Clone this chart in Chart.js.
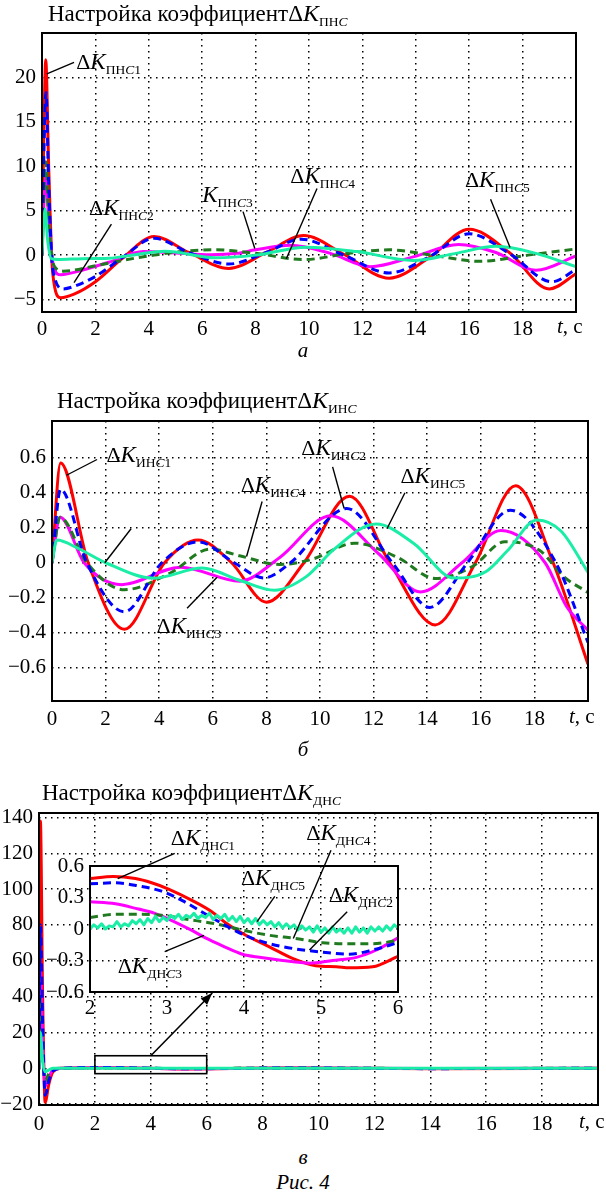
<!DOCTYPE html>
<html><head><meta charset="utf-8">
<script src="https://cdn.jsdelivr.net/npm/chart.js@4.4.1/dist/chart.umd.min.js"></script>
<style>
html,body{margin:0;padding:0;background:#fff;}
body{width:606px;height:1196px;position:relative;overflow:hidden;}
canvas{position:absolute;}
.cap{position:absolute;left:0;width:606px;text-align:center;font-family:"Liberation Serif",serif;font-style:italic;font-size:21px;line-height:21px;color:#000;}
.pre{position:absolute;left:-1000px;top:0;font-family:"Liberation Serif";}
</style></head><body>
<span class="pre">Аа <i>Kt</i> 0123</span>
<canvas id="c1" width="606" height="345" style="left:0;top:0"></canvas>
<canvas id="c2" width="606" height="360" style="left:0;top:380px"></canvas>
<canvas id="c3" width="606" height="370" style="left:0;top:770px"></canvas>
<canvas id="c4" width="440" height="210" style="left:0;top:815px"></canvas>
<div class="cap" style="top:340px">а</div>
<div class="cap" style="top:739px">б</div>
<div class="cap" style="top:1147px">в</div>
<div class="cap" style="top:1172px">Рис. 4</div>
<script>
const FONT = '"Liberation Serif", serif';

// ---------- (а) ΔK_ПНС ----------
const pns1T = [0, 0.06, 0.14, 0.25, 0.4, 0.7, 1.2, 2.0, 3.0, 4.2, 5.5, 7.0, 8.4, 9.8, 11.3, 13.0, 14.5, 16.0, 17.5, 19.0, 20];
const pns1V = [0, 12, 22, 10, -2, -4.8, -4.4, -3.0, -0.4, 2.1, 0.3, -1.5, 0.3, 2.2, 0.1, -2.6, -0.3, 2.9, 0.3, -3.8, -2.1];
const pns2T = [0, 0.06, 0.15, 0.25, 0.4, 0.8, 1.3, 2.0, 3.0, 4.2, 5.5, 7.0, 8.4, 9.7, 11.3, 13.0, 14.5, 16.0, 17.5, 19.1, 20];
const pns2V = [0, 10, 18.3, 8, -1.5, -3.8, -3.4, -2.4, -0.3, 1.9, 0.3, -1.0, 0.3, 1.8, 0.0, -2.0, -0.2, 2.4, 0.2, -3.0, -1.6];
const pns3T = [0, 0.06, 0.15, 0.25, 0.45, 0.7, 1.5, 2.5, 3.8, 5.0, 6.3, 7.3, 8.0, 9.3, 10.8, 12.3, 13.9, 15.6, 17.0, 18.5, 20];
const pns3V = [0, 5, 9, 4, -1.5, -2.2, -1.7, -0.8, 0.4, 0.25, 0.05, 0.2, 0.6, 1.1, 0.2, -1.3, -0.2, 1.2, 0.3, -1.7, -0.1];
const pns4T = [0, 0.06, 0.15, 0.25, 0.45, 0.8, 2.0, 3.0, 4.2, 5.2, 6.5, 8.0, 9.8, 11.5, 13.0, 14.6, 16.4, 18.2, 20];
const pns4V = [0, 6, 10.5, 4, -1.2, -1.8, -1.2, -0.6, 0.0, 0.4, 0.6, 0.2, -0.5, 0.2, 0.6, 0.0, -0.7, 0.0, 0.7];
const pns5T = [0, 0.05, 0.12, 0.2, 0.35, 0.6, 1.5, 2.5, 3.5, 4.6, 6.5, 8.0, 9.9, 11.8, 13.9, 15.5, 17.0, 18.5, 20];
const pns5V = [0, 3, 5.2, 2, -0.4, -0.5, -0.4, -0.35, 0.05, 0.45, -0.3, 0.0, 0.9, 0.4, -0.6, 0.2, 1.0, 0.2, -1.3];
const pnsXTicks = [0, 2, 4, 6, 8, 10, 12, 14, 16, 18];
const pnsYTicks = [-5, 0, 5, 10, 15, 20];

// ---------- (б) ΔK_ИНС ----------
const ins1T = [0, 0.32, 1.35, 2.7, 4.2, 5.45, 6.7, 8.0, 9.4, 11.1, 12.6, 14.3, 15.8, 17.3, 18.7, 20];
const ins1V = [0, 0.57, 0, -0.38, 0, 0.13, 0, -0.225, 0, 0.38, 0, -0.355, 0, 0.44, 0, -0.58];
const ins2T = [0, 0.32, 1.3, 2.7, 4.1, 5.45, 6.8, 7.9, 8.9, 11.0, 12.7, 14.1, 15.5, 17.1, 18.8, 20];
const ins2V = [0, 0.42, 0, -0.28, 0, 0.12, 0, -0.087, 0, 0.31, 0, -0.255, 0, 0.30, 0, -0.455];
const ins3T = [0, 0.3, 1.2, 2.6, 4.8, 7.0, 8.5, 10.4, 12.2, 13.75, 15.3, 16.75, 18.4, 19.2, 20];
const ins3V = [0, 0.26, 0, -0.125, -0.025, -0.105, 0.03, 0.268, 0.05, -0.167, 0.0, 0.184, 0.0, -0.25, -0.385];
const ins4T = [0, 0.3, 1.3, 2.7, 4.4, 5.9, 7.0, 8.5, 9.7, 11.3, 12.9, 14.3, 15.7, 16.9, 18.2, 19.1, 20];
const ins4V = [0, 0.26, 0, -0.154, -0.06, 0.078, 0.04, -0.01, 0.02, 0.112, 0.03, -0.09, -0.02, 0.12, 0.07, -0.08, -0.17];
const ins5T = [0, 0.18, 1.0, 2.0, 3.8, 5.6, 7.0, 8.3, 9.5, 10.5, 12.1, 13.5, 15.0, 16.2, 17.0, 18.1, 19.0, 20];
const ins5V = [0, 0.13, 0.08, 0.0, -0.088, -0.03, -0.1, -0.157, -0.078, 0.074, 0.222, 0.11, -0.087, -0.05, 0.07, 0.245, 0.18, -0.055];
const insXTicks = [0, 2, 4, 6, 8, 10, 12, 14, 16, 18];
const insYTicks = [-0.6, -0.4, -0.2, 0, 0.2, 0.4, 0.6];

// ---------- (в) ΔK_ДНС ----------
const dnsT  = [0, 0.05, 0.13, 0.22, 0.35, 0.5, 0.8, 2.3, 5.3, 9, 14, 20];
const dns1V = [0, 138, 40, -19, -9, -2, 0, 0.5, -0.4, 0.3, -0.3, 0];
const dns2V = [0, 80, 25, -15, -7, -1.5, 0, 0.44, -0.24, 0.2, -0.2, 0];
const dns3V = [0, 55, 15, -10, -5, -1, 0, 0.25, -0.32, 0.15, -0.15, 0];
const dns4V = [0, 40, 10, -7, -3, -0.5, 0, 0.14, -0.14, 0.1, -0.1, 0];
const dns5V = [0, 20, 4, -2, -1, 0, 0, 0.05, 0, 0.05, 0, 0];
const dnsXTicks = [0, 2, 4, 6, 8, 10, 12, 14, 16, 18];
const dnsYTicks = [-20, 0, 20, 40, 60, 80, 100, 120, 140];

// inset (2..6 s)
const zoom1T = [2, 2.3, 2.59, 2.8, 3.02, 3.33, 3.59, 3.76, 4.0, 4.33, 4.63, 4.93, 5.2, 5.37, 5.67, 6];
const zoom1V = [0.48, 0.5, 0.48, 0.44, 0.38, 0.27, 0.16, 0.06, -0.05, -0.17, -0.28, -0.35, -0.36, -0.37, -0.36, -0.26];
const zoom2T = [2, 2.33, 2.63, 2.93, 3.2, 3.46, 3.72, 3.98, 4.28, 4.67, 5.02, 5.37, 5.67, 6];
const zoom2V = [0.43, 0.44, 0.41, 0.36, 0.27, 0.16, 0.05, -0.05, -0.13, -0.19, -0.22, -0.24, -0.2, -0.13];
const zoom3T = [2, 2.33, 2.63, 2.8, 3.02, 3.33, 3.5, 3.72, 3.98, 4.2, 4.5, 4.85, 5.15, 5.46, 5.72, 6];
const zoom3V = [0.26, 0.24, 0.19, 0.16, 0.095, -0.016, -0.085, -0.16, -0.24, -0.27, -0.3, -0.325, -0.3, -0.27, -0.2, -0.085];
const zoom4T = [2, 2.33, 2.63, 2.93, 3.28, 3.63, 3.98, 4.33, 4.67, 5.02, 5.37, 5.67, 6];
const zoom4V = [0.11, 0.14, 0.14, 0.13, 0.09, 0.05, -0.01, -0.06, -0.09, -0.13, -0.14, -0.14, -0.11];
const zoom5T = [2.00,2.05,2.10,2.15,2.20,2.25,2.30,2.35,2.40,2.45,2.50,2.55,2.60,2.65,2.70,2.75,2.80,2.85,2.90,2.95,
                3.00,3.05,3.10,3.15,3.20,3.25,3.30,3.35,3.40,3.45,3.50,3.55,3.60,3.65,3.70,3.75,3.80,3.85,3.90,3.95,
                4.00,4.05,4.10,4.15,4.20,4.25,4.30,4.35,4.40,4.45,4.50,4.55,4.60,4.65,4.70,4.75,4.80,4.85,4.90,4.95,
                5.00,5.05,5.10,5.15,5.20,5.25,5.30,5.35,5.40,5.45,5.50,5.55,5.60,5.65,5.70,5.75,5.80,5.85,5.90,5.95,6.00];
const zoom5V = [0.00,0.04,0.01,0.05,0.00,0.03,0.02,0.07,0.02,0.05,0.03,0.08,0.05,0.09,0.04,0.10,0.06,0.12,0.07,0.11,
                0.08,0.13,0.10,0.14,0.09,0.13,0.11,0.15,0.10,0.13,0.11,0.15,0.09,0.13,0.10,0.14,0.08,0.12,0.07,0.12,
                0.06,0.10,0.05,0.10,0.04,0.08,0.04,0.07,0.02,0.06,0.01,0.05,0.01,0.04,-0.01,0.03,-0.01,0.02,-0.03,0.03,
                -0.03,0.01,-0.04,0.02,-0.03,0.00,-0.04,0.01,-0.04,0.02,-0.03,0.01,-0.04,0.02,-0.02,0.02,-0.02,0.03,-0.01,0.04,0.01];
const zoomXTicks = [2, 3, 4, 5, 6];
const zoomYTicks = [-0.6, -0.3, 0, 0.3, 0.6];

// ---------- styles ----------
const RED = '#ff0000', BLUE = '#0000ff', MAG = '#ff00ff', GRN = '#1f7a1f', CYN = '#1aeea6';
const DASH = [8, 5];
const TICK = 21;

function pts(t, v) { return t.map((x, i) => ({ x: x, y: v[i] })); }
function ds(t, v, color, dash, order, linear) {
  return {
    data: pts(t, v), borderColor: color, borderWidth: 3, borderDash: dash || [],
    pointRadius: 0, fill: false, order: order,
    cubicInterpolationMode: linear ? 'default' : 'monotone', tension: linear ? 0 : 0.4,
    borderCapStyle: 'butt', borderJoinStyle: 'round'
  };
}
function fmt(v) {
  if (v === 0) return '0';
  const s = Number.isInteger(v) ? String(v) : String(+v.toFixed(1));
  return s.replace('-', '\u2212');
}
function drawRich(ctx, x, y, parts) {
  ctx.textBaseline = 'alphabetic'; ctx.textAlign = 'left'; ctx.fillStyle = '#000';
  for (const p of parts) { ctx.font = p[1]; ctx.fillText(p[0], x, y + (p[2] || 0)); x += ctx.measureText(p[0]).width; }
}
const SUBF = '13.5px ' + FONT, SUBI = 'italic 13.5px ' + FONT;
function kParts(delta, sub, n) {
  const p = [];
  if (delta) p.push(['\u0394', '22px ' + FONT]);
  p.push(['K', 'italic 23px ' + FONT]);
  p.push([sub, SUBF, 5]);
  p.push(['C', SUBI, 5]);
  if (n) p.push([n, SUBF, 5]);
  return p;
}

const deco = {
  id: 'deco',
  beforeDraw(chart, args, o) {
    if (o.fill) {
      const a = chart.chartArea, ctx = chart.ctx;
      ctx.save(); ctx.fillStyle = '#fff'; ctx.fillRect(a.left, a.top, a.width, a.height); ctx.restore();
    }
  },
  afterDraw(chart, args, o) {
    const ctx = chart.ctx, a = chart.chartArea, X = chart.scales.x, Y = chart.scales.y;
    const px = v => X.getPixelForValue(v), py = v => Y.getPixelForValue(v);
    ctx.save();
    ctx.strokeStyle = '#000'; ctx.lineWidth = 2;
    ctx.strokeRect(a.left, a.top, a.width, a.height);
    if (o.title) {
      drawRich(ctx, o.title.x, o.title.y, [['Настройка коэффициент', '23px ' + FONT], ['\u0394', '23px ' + FONT],
        ['K', 'italic 24px ' + FONT], [o.sub, SUBF, 5], ['C', SUBI, 5]]);
    }
    if (o.unit) {
      ctx.textBaseline = 'top';
      const yy = a.bottom + o.unit.pad;
      ctx.font = 'italic ' + TICK + 'px ' + FONT; ctx.fillStyle = '#000'; ctx.textAlign = 'left';
      ctx.fillText('t', o.unit.x, yy);
      const w = ctx.measureText('t').width;
      ctx.font = TICK + 'px ' + FONT; ctx.fillText(', с', o.unit.x + w, yy);
    }
    ctx.lineWidth = 1.4; ctx.strokeStyle = '#000';
    for (const L of (o.notes || [])) {
      if (L.from) {
        ctx.beginPath(); ctx.moveTo(px(L.from[0]), py(L.from[1])); ctx.lineTo(px(L.to[0]), py(L.to[1])); ctx.stroke();
      }
      if (L.at) drawRich(ctx, px(L.at[0]), py(L.at[1]), kParts(L.d, o.sub, L.n));
    }
    if (o.rect) {
      ctx.lineWidth = 1.6;
      const r = o.rect;
      ctx.strokeRect(px(r[0]), py(r[3]), px(r[1]) - px(r[0]), py(r[2]) - py(r[3]));
    }
    if (o.arrow) {
      const x0 = px(o.arrow[0]), y0 = py(o.arrow[1]), x1 = px(o.arrow[2]), y1 = py(o.arrow[3]);
      ctx.lineWidth = 1.6;
      ctx.beginPath(); ctx.moveTo(x0, y0); ctx.lineTo(x1, y1); ctx.stroke();
      const ang = Math.atan2(y1 - y0, x1 - x0), L = 12, W = 4.5;
      ctx.beginPath();
      ctx.moveTo(x1, y1);
      ctx.lineTo(x1 - L * Math.cos(ang) + W * Math.sin(ang), y1 - L * Math.sin(ang) - W * Math.cos(ang));
      ctx.lineTo(x1 - L * Math.cos(ang) - W * Math.sin(ang), y1 - L * Math.sin(ang) + W * Math.cos(ang));
      ctx.closePath(); ctx.fillStyle = '#000'; ctx.fill();
    }
    ctx.restore();
  }
};

function makeChart(id, c) {
  const axis = (min, max, ticks, pad, fit) => ({
    type: 'linear', min: min, max: max,
    afterBuildTicks: s => { s.ticks = ticks.map(v => ({ value: v })); },
    afterFit: fit,
    grid: { color: '#000', lineWidth: 1.5, drawTicks: false },
    border: { display: false, dash: [1.5, 4.5] },
    ticks: { color: '#000', font: { family: FONT, size: TICK }, padding: pad, maxRotation: 0, autoSkip: false, callback: v => fmt(v) }
  });
  return new Chart(document.getElementById(id), {
    type: 'line',
    data: { datasets: c.series },
    options: {
      responsive: false, animation: false, events: [],
      layout: { padding: { left: 0, right: c.padR, top: c.padT, bottom: c.padB } },
      plugins: { legend: { display: false }, tooltip: { enabled: false }, deco: c.deco },
      scales: {
        x: axis(c.x[0], c.x[1], c.xt, c.xPad, s => { s.height = 30; }),
        y: axis(c.y[0], c.y[1], c.yt, 6, s => { s.width = c.yW; })
      }
    },
    plugins: [deco]
  });
}

function drawAll() {
  // (а)
  makeChart('c1', {
    series: [
      ds(pns5T, pns5V, CYN, null, 1), ds(pns2T, pns2V, BLUE, DASH, 2), ds(pns4T, pns4V, GRN, DASH, 3),
      ds(pns3T, pns3V, MAG, null, 4), ds(pns1T, pns1V, RED, null, 5)
    ],
    x: [0, 20], y: [-6.4, 25], xt: pnsXTicks, yt: pnsYTicks, xPad: 5,
    yW: 42, padR: 30, padT: 33, padB: 3,
    deco: {
      sub: 'ПН', title: { x: 48, y: 21 }, unit: { x: 557, pad: 5 },
      notes: [
        { d: true, n: '1', at: [1.28, 21], from: [1.2, 21.7], to: [0.18, 20.4] },
        { d: true, n: '2', at: [1.76, 4.5], from: [2.6, 3.5], to: [1.2, -3.1] },
        { d: false, n: '3', at: [6.0, 6.0], from: [7.53, 4.9], to: [7.97, 0.75] },
        { d: true, n: '4', at: [9.3, 8.1], from: [10.3, 7.5], to: [9.15, -0.4] },
        { d: true, n: '5', at: [15.84, 7.7], from: [16.8, 6.3], to: [17.53, 0.86] }
      ]
    }
  });

  // (б)
  makeChart('c2', {
    series: [
      ds(ins5T, ins5V, CYN, null, 1), ds(ins2T, ins2V, BLUE, DASH, 2), ds(ins4T, ins4V, GRN, DASH, 3),
      ds(ins3T, ins3V, MAG, null, 4), ds(ins1T, ins1V, RED, null, 5)
    ],
    x: [0, 20], y: [-0.79, 0.81], xt: insXTicks, yt: insYTicks, xPad: 6,
    yW: 52, padR: 18, padT: 41, padB: 9,
    deco: {
      sub: 'ИН', title: { x: 57, y: 28 }, unit: { x: 569, pad: 6 },
      notes: [
        { d: true, n: '1', at: [2.03, 0.577], from: [1.68, 0.59], to: [0.54, 0.50] },
        { d: true, n: '2', at: [9.3, 0.615], from: [10.47, 0.548], to: [10.9, 0.31] },
        { d: true, n: '3', at: [3.9, -0.40], from: [5.04, -0.26], to: [6.16, -0.083] },
        { d: true, n: '4', at: [7.04, 0.406], from: [7.84, 0.35], to: [7.26, 0.036] },
        { d: true, n: '5', at: [13.0, 0.453], from: [13.17, 0.40], to: [12.5, 0.194] },
        { from: [2.95, 0.194], to: [1.97, 0.0] }
      ]
    }
  });

  // (в) main
  makeChart('c3', {
    series: [
      ds(dnsT, dns5V, CYN, null, 1), ds(dnsT, dns2V, BLUE, DASH, 2), ds(dnsT, dns4V, GRN, DASH, 3),
      ds(dnsT, dns3V, MAG, null, 4), ds(dnsT, dns1V, RED, null, 5)
    ],
    x: [0, 20], y: [-20.5, 142.5], xt: dnsXTicks, yt: dnsYTicks, xPad: 7,
    yW: 39, padR: 8, padT: 43, padB: 5,
    deco: {
      sub: 'ДН', title: { x: 42, y: 30 }, unit: { x: 579, pad: 7 },
      rect: [2, 6, -3, 7], arrow: [4.0, 7, 6.2, 42]
    }
  });

  // (в) inset
  makeChart('c4', {
    series: [
      ds(zoom5T, zoom5V, CYN, null, 1, true), ds(zoom2T, zoom2V, BLUE, DASH, 2), ds(zoom4T, zoom4V, GRN, DASH, 3),
      ds(zoom3T, zoom3V, MAG, null, 4), ds(zoom1T, zoom1V, RED, null, 5)
    ],
    x: [2, 6], y: [-0.6, 0.6], xt: zoomXTicks, yt: zoomYTicks, xPad: 4,
    yW: 90, padR: 42, padT: 51, padB: 3,
    deco: {
      sub: 'ДН', fill: true,
      notes: [
        { d: true, n: '1', at: [3.05, 0.80], from: [3.10, 0.72], to: [2.36, 0.48] },
        { d: true, n: '4', at: [4.81, 0.85], from: [5.13, 0.75], to: [4.64, -0.09] },
        { d: true, n: '5', at: [3.96, 0.42], from: [4.40, 0.31], to: [4.17, 0.07] },
        { d: true, n: '2', at: [5.10, 0.26], from: [5.34, 0.165], to: [4.85, -0.20] },
        { d: true, n: '3', at: [2.36, -0.42], from: [2.97, -0.216], to: [3.48, -0.06] }
      ]
    }
  });
}

let started = false;
function go() { if (!started) { started = true; drawAll(); } }
if (document.fonts && document.fonts.load) {
  Promise.all([
    document.fonts.load('20px "Liberation Serif"'),
    document.fonts.load('italic 20px "Liberation Serif"')
  ]).then(go, go);
  setTimeout(go, 300);
} else { go(); }
</script>
</body></html>
